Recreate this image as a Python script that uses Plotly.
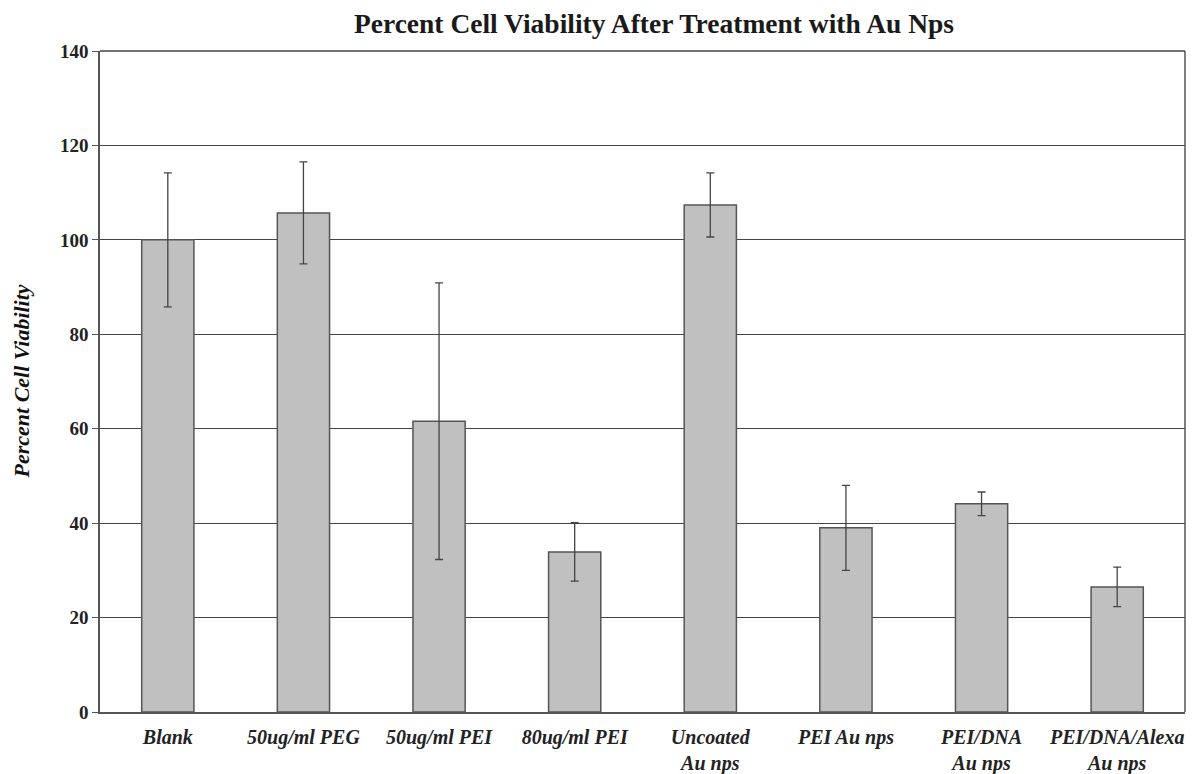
import plotly.graph_objects as go

categories = ["Blank", "50ug/ml PEG", "50ug/ml PEI", "80ug/ml PEI",
              "Uncoated<br>Au nps", "PEI Au nps", "PEI/DNA<br>Au nps", "PEI/DNA/Alexa<br>Au nps"]
viability = [100.0, 105.7, 61.6, 33.9, 107.4, 39.0, 44.1, 26.5]
error = [14.2, 10.8, 29.3, 6.2, 6.8, 9.0, 2.5, 4.2]
y_ticks = [0, 20, 40, 60, 80, 100, 120, 140]

SERIF = "Liberation Serif, Times New Roman, serif"
W, H = 1198, 774
OFF = 8  # page body margin offset
L, R, T, B = 100 - OFF, W - (1185 - OFF), 51 - OFF, H - (712 - OFF)
PW = W - L - R

fig = go.Figure()
fig.add_trace(go.Bar(
    x=categories, y=viability,
    width=0.385,
    marker=dict(color="#c0c0c0", line=dict(color="#555555", width=1.5)),
    error_y=dict(type="data", array=error, visible=True,
                 color="#444444", thickness=1.3, width=4),
    showlegend=False,
))

fig.update_layout(
    width=W, height=H,
    margin=dict(l=L, r=R, t=T, b=B),
    paper_bgcolor="white", plot_bgcolor="white",
    font=dict(family=SERIF, color="#111111"),
    title=dict(text="<b>Percent Cell Viability After Treatment with Au Nps</b>",
               x=(654 - OFF) / W, xref="container", xanchor="center",
               y=1 - (23 - OFF) / H, yref="container", yanchor="middle",
               font=dict(size=27.5, family=SERIF, color="#1a1a1a")),
    xaxis=dict(
        tickfont=dict(size=20, family=SERIF, color="#222222", weight="bold", style="italic"),
        showline=True, linecolor="#555555", linewidth=1.5, mirror=False,
        showgrid=False, ticks="", ticklen=0, automargin=False,
        ticklabelstandoff=6,
    ),
    yaxis=dict(
        range=[0, 140], tickvals=y_ticks,
        tickfont=dict(size=19, family=SERIF, color="#222222", weight="bold"),
        showline=True, linecolor="#555555", linewidth=1.5,
        showgrid=True, gridcolor="#444444", gridwidth=1.3,
        ticks="outside", ticklen=6, tickcolor="#555555", tickwidth=1.3,
        zeroline=False, automargin=False,
    ),
)
fig.add_annotation(text="<b><i>Percent Cell Viability</i></b>", textangle=-90,
                   xref="paper", yref="paper", x=(21 - OFF - L) / PW, y=0.5,
                   xanchor="center", yanchor="middle", showarrow=False,
                   font=dict(size=22, family=SERIF, color="#111111"))
fig.add_shape(type="line", xref="paper", yref="paper", x0=1, x1=1, y0=0, y1=1,
              line=dict(color="#555555", width=1.5))
fig.add_shape(type="line", xref="paper", yref="paper", x0=0, x1=1, y0=1, y1=1,
              line=dict(color="#444444", width=1.5))

fig.write_html("out.html")
